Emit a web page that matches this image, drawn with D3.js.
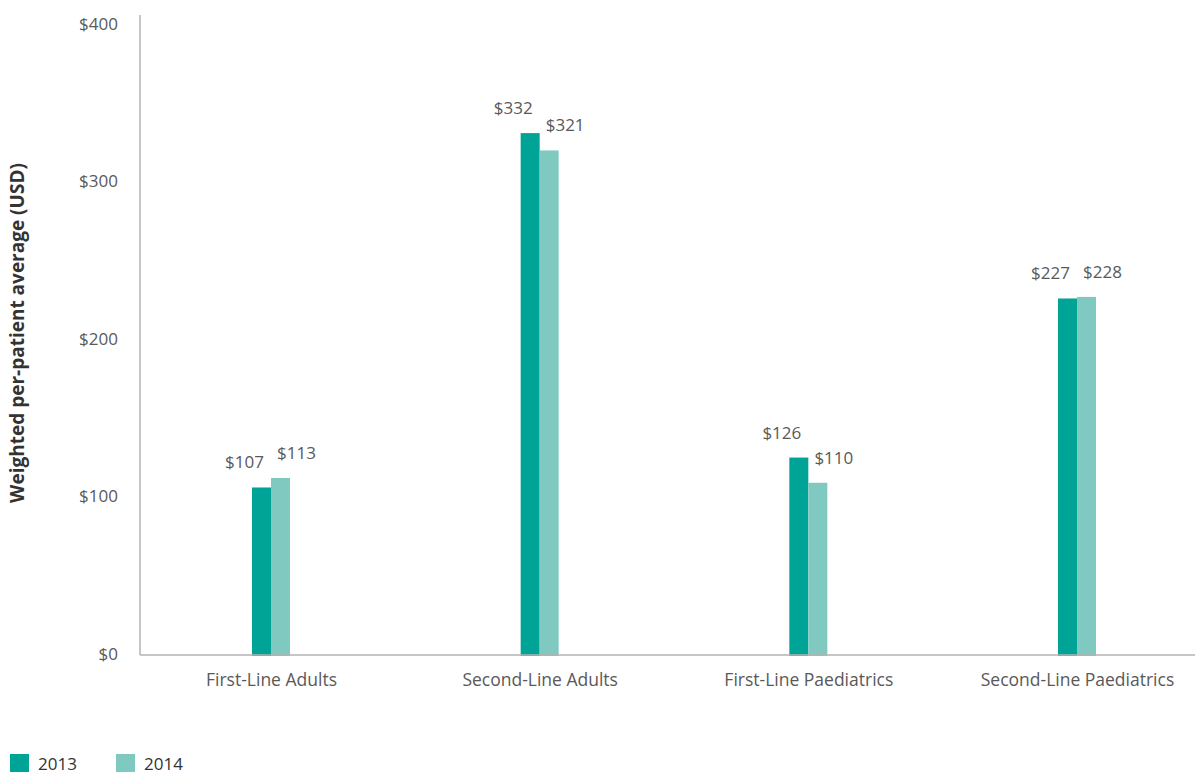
<!DOCTYPE html>
<html>
<head>
<meta charset="utf-8">
<script src="https://cdn.jsdelivr.net/npm/d3@7"></script>
<style>
  html, body { margin: 0; padding: 0; background: #fff; }
  svg { display: block; font-family: "Open Sans", "Lato", sans-serif; }
</style>
</head>
<body>
<svg id="chart" width="1197" height="775"></svg>
<script>
// Weighted per-patient average ARV cost by regimen line
const categories = ["First-Line Adults", "Second-Line Adults", "First-Line Paediatrics", "Second-Line Paediatrics"];
const years = ["2013", "2014"];
const values2013 = [107, 332, 126, 227];
const values2014 = [113, 321, 110, 228];
const yTicks = [0, 100, 200, 300, 400];

const colors = { "2013": "#00a496", "2014": "#7fc9c0" };
const textColor = "#595959";
const fontFamily = "'Open Sans', Lato, sans-serif";

const svg = d3.select("#chart");

const y = d3.scaleLinear().domain([0, 400]).range([656, 26]);
const x = d3.scalePoint().domain(categories).range([271, 1077]);
const xSub = d3.scaleBand().domain(years).range([-19, 19]).padding(0);

const series = { "2013": values2013, "2014": values2014 };

// Bars
const groups = svg.append("g").selectAll("g")
  .data(categories)
  .join("g")
  .attr("transform", d => `translate(${x(d)},0)`);

years.forEach((yr, k) => {
  groups.append("rect")
    .attr("x", xSub(yr))
    .attr("width", xSub.bandwidth())
    .attr("y", (d, i) => y(series[yr][i]))
    .attr("height", (d, i) => y(0) - y(series[yr][i]))
    .attr("fill", colors[yr]);

  // Value labels, staggered outward from each pair
  groups.append("text")
    .attr("x", xSub(yr) + xSub.bandwidth() / 2 + (k === 0 ? -17 : 16))
    .attr("y", (d, i) => y(series[yr][i]) - 19)
    .attr("text-anchor", "middle")
    .attr("font-size", 17)
    .attr("fill", textColor)
    .text((d, i) => "$" + series[yr][i]);
});

// Axis lines
svg.append("line")
  .attr("x1", 140).attr("x2", 140)
  .attr("y1", 15).attr("y2", 655)
  .attr("stroke", "#b3b3b3").attr("stroke-width", 1.5);
svg.append("line")
  .attr("x1", 140).attr("x2", 1195)
  .attr("y1", 655).attr("y2", 655)
  .attr("stroke", "#b3b3b3").attr("stroke-width", 1.5);

// Y tick labels
const yAxis = d3.axisLeft(y).tickValues(yTicks).tickFormat(d => "$" + d).tickSize(0).tickPadding(0);
const yg = svg.append("g").attr("transform", "translate(118,-2)").call(yAxis);
yg.select(".domain").remove();
yg.selectAll("text")
  .attr("font-size", 17)
  .attr("font-family", fontFamily)
  .attr("fill", textColor);

// X category labels
const xAxis = d3.axisBottom(x).tickSize(0).tickPadding(0);
const xg = svg.append("g").attr("transform", "translate(0,674)").call(xAxis);
xg.select(".domain").remove();
xg.selectAll("text")
  .attr("font-size", 17.5)
  .attr("font-family", fontFamily)
  .attr("fill", textColor);

// Y axis title
svg.append("text")
  .attr("transform", "translate(24,333) rotate(-90)")
  .attr("text-anchor", "middle")
  .attr("font-size", 19)
  .attr("font-weight", "bold")
  .attr("fill", "#333")
  .text("Weighted per-patient average (USD)");

// Legend
const legend = svg.append("g").selectAll("g")
  .data(years)
  .join("g")
  .attr("transform", (d, i) => `translate(${10 + i * 106},754)`);
legend.append("rect")
  .attr("width", 19).attr("height", 18)
  .attr("fill", d => colors[d]);
legend.append("text")
  .attr("x", 28).attr("y", 16)
  .attr("font-size", 17)
  .attr("fill", "#333")
  .text(d => d);
</script>
</body>
</html>
